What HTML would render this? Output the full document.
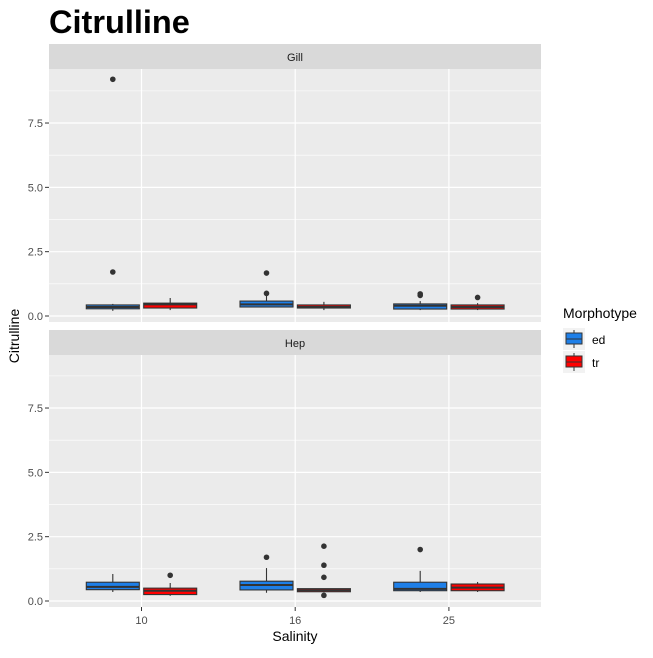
<!DOCTYPE html>
<html><head><meta charset="utf-8"><style>
body{margin:0;background:#fff;font-family:"Liberation Sans",sans-serif}
</style></head><body>
<svg id="c" width="653" height="653" xmlns="http://www.w3.org/2000/svg">
<rect width="653" height="653" fill="#fff"/>
<text x="49" y="33" font-size="32.5" font-weight="bold" fill="#000">Citrulline</text>
<g id="plot"></g>
<text x="295" y="641" font-size="14" text-anchor="middle" fill="#000">Salinity</text>
<text transform="translate(19,336) rotate(-90)" font-size="14" text-anchor="middle" fill="#000">Citrulline</text>
<g>
<text x="563" y="318" font-size="14" fill="#000">Morphotype</text>
<g>
<rect x="563" y="328" width="22" height="22" fill="#f2f2f2"/>
<line x1="574" y1="330" x2="574" y2="348" stroke="#333"/>
<rect x="566" y="333" width="16" height="11" fill="#1E7FE8" stroke="#333"/>
<line x1="566" y1="339" x2="582" y2="339" stroke="#333"/>
<text x="592" y="344" font-size="12" fill="#000">ed</text></g>
<g>
<rect x="563" y="351" width="22" height="22" fill="#f2f2f2"/>
<line x1="574" y1="353" x2="574" y2="371" stroke="#333"/>
<rect x="566" y="356" width="16" height="11" fill="#FF0000" stroke="#333"/>
<line x1="566" y1="362" x2="582" y2="362" stroke="#333"/>
<text x="592" y="367" font-size="12" fill="#000">tr</text></g>
</g>
</svg>
<script>
const categories=["10","16","25"];
const groups=["ed","tr"];
const panels=["Gill","Hep"];
const yTicks=[0,2.5,5,7.5];
const yTickLabels=["0.0","2.5","5.0","7.5"];
// [lower whisker, q1, median, q3, upper whisker] per panel, category, group
const gillEd=[[0.2,0.28,0.35,0.43,0.47],[0.33,0.35,0.45,0.58,0.78],[0.23,0.27,0.4,0.47,0.58]];
const gillTr=[[0.23,0.31,0.45,0.5,0.7],[0.23,0.31,0.35,0.43,0.55],[0.23,0.27,0.35,0.43,0.5]];
const hepEd=[[0.35,0.44,0.55,0.73,1.05],[0.32,0.43,0.62,0.77,1.28],[0.35,0.4,0.47,0.73,1.17]];
const hepTr=[[0.2,0.25,0.4,0.5,0.7],[0.36,0.36,0.42,0.48,0.48],[0.35,0.4,0.52,0.66,0.74]];
const gillEdOut=[[9.2,1.71],[1.67,0.88],[0.8,0.86]];
const gillTrOut=[[],[],[0.72]];
const hepEdOut=[[],[1.7],[2.0]];
const hepTrOut=[[1.0],[2.13,1.39,0.92,0.22],[]];
const colors={ed:"#1E7FE8",tr:"#FF0000"};
const NS="http://www.w3.org/2000/svg";
const g=document.getElementById("plot");
function mk(t,a,p){const e=document.createElementNS(NS,t);for(const k in a)e.setAttribute(k,a[k]);(p||g).appendChild(e);return e;}
const X0=49,X1=541;
function xs(i){return 141.5+i*153.7;}
const panelDefs=[{top:69,zero:316,strip:44,box:[gillEd,gillTr],out:[gillEdOut,gillTrOut]},{top:355,zero:601,strip:330,box:[hepEd,hepTr],out:[hepEdOut,hepTrOut]}];
const k=25.73;
panelDefs.forEach((p,pi)=>{
 const bottom=p.zero+6;
 const ys=v=>p.zero-v*k;
 const s=mk("rect",{x:X0,y:p.strip,width:X1-X0,height:25,fill:"#D9D9D9"});
 
 
 const st=mk("text",{x:(X0+X1)/2,y:p.strip+17,"font-size":11,"text-anchor":"middle",fill:"#1A1A1A"});st.textContent=panels[pi];
 
 
 const bg=mk("rect",{x:X0,y:p.top,width:X1-X0,height:bottom-p.top,fill:"#EBEBEB"});
 
 
 for(let v=1.25;v<10;v+=2.5){const y=ys(v);if(y>p.top)mk("line",{x1:X0,x2:X1,y1:y,y2:y,stroke:"#fff","stroke-width":0.6});}
 yTicks.forEach((v,i)=>{const y=ys(v);mk("line",{x1:X0,x2:X1,y1:y,y2:y,stroke:"#fff","stroke-width":1.2});
  mk("line",{x1:X0-4,x2:X0,y1:y,y2:y,stroke:"#333"});
  const t=mk("text",{x:X0-6,y:y+4,"font-size":11,"text-anchor":"end",fill:"#4D4D4D"});t.textContent=yTickLabels[i];
  
  });
 categories.forEach((c,i)=>{mk("line",{x1:xs(i),x2:xs(i),y1:p.top,y2:bottom,stroke:"#fff","stroke-width":1.2});});
 groups.forEach((gr,gi)=>{
  categories.forEach((c,i)=>{
   const d=p.box[gi][i];const cx=xs(i)+(gi?28.7:-28.7);const w=53;
   const bx=mk("g",{});
   
   
   mk("line",{x1:cx,x2:cx,y1:ys(d[0]),y2:ys(d[4]),stroke:"#333","stroke-width":1.1},bx);
   mk("rect",{x:cx-w/2,y:ys(d[3]),width:w,height:Math.max(ys(d[1])-ys(d[3]),1),fill:colors[gr],stroke:"#333","stroke-width":1.1},bx);
   mk("line",{x1:cx-w/2,x2:cx+w/2,y1:ys(d[2]),y2:ys(d[2]),stroke:"#333","stroke-width":2},bx);
   p.out[gi][i].forEach(v=>{const o=mk("circle",{cx:cx,cy:ys(v),r:2.8,fill:"#333"},bx);
    
    });
  });
 });
 if(pi===1){categories.forEach((c,i)=>{mk("line",{x1:xs(i),x2:xs(i),y1:bottom,y2:bottom+4,stroke:"#333"});
  const t=mk("text",{x:xs(i),y:bottom+17,"font-size":11,"text-anchor":"middle",fill:"#4D4D4D"});t.textContent=c;
  
  });}
});
</script>
</body></html>
